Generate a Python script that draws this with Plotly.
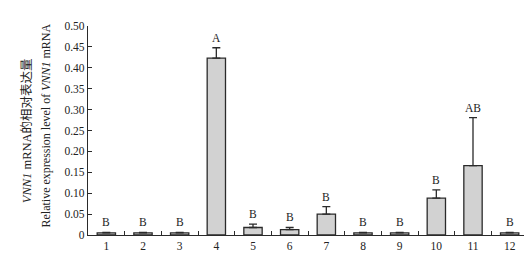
import plotly.graph_objects as go

categories = ["1", "2", "3", "4", "5", "6", "7", "8", "9", "10", "11", "12"]
values = [0.005, 0.005, 0.005, 0.423, 0.018, 0.013, 0.050, 0.005, 0.005, 0.088, 0.166, 0.005]
errors = [0.001, 0.001, 0.001, 0.025, 0.008, 0.005, 0.018, 0.001, 0.001, 0.020, 0.115, 0.001]
letters = ["B", "B", "B", "A", "B", "B", "B", "B", "B", "B", "AB", "B"]
ytick_vals = [0, 0.05, 0.10, 0.15, 0.20, 0.25, 0.30, 0.35, 0.40, 0.45, 0.50]
ytick_text = ["0", "0.05", "0.10", "0.15", "0.20", "0.25", "0.30", "0.35", "0.40", "0.45", "0.50"]
title_cn = "<i>VNN1</i> mRNA的相对表达量"
title_en = "Relative expression level of <i>VNN1</i> mRNA"

FONT = "Liberation Serif, Times New Roman, Noto Sans CJK SC, serif"

fig = go.Figure()
fig.add_trace(go.Bar(
    x=categories, y=values, width=0.5,
    marker=dict(color="#d2d2d2", line=dict(color="#2a2a2a", width=1.3)),
    error_y=dict(type="data", array=errors, arrayminus=[0]*len(errors), symmetric=False,
                 color="#2a2a2a", thickness=1.3, width=4),
))

for i, (v, e, t) in enumerate(zip(values, errors, letters)):
    fig.add_annotation(x=i, y=v + e, xref="x", yref="y", text=t, showarrow=False,
                       yanchor="bottom", yshift=2,
                       font=dict(family=FONT, size=11.5, color="#222"))

fig.add_annotation(x=-0.138, y=0.498, xref="paper", yref="paper", text=title_cn,
                   textangle=-90, showarrow=False, xanchor="center", yanchor="middle",
                   font=dict(family=FONT, size=12.5, color="#222"))
fig.add_annotation(x=-0.095, y=0.525, xref="paper", yref="paper", text=title_en,
                   textangle=-90, showarrow=False, xanchor="center", yanchor="middle",
                   font=dict(family=FONT, size=12, color="#222"))

fig.update_layout(
    width=532, height=256,
    margin=dict(l=80, r=12, t=14, b=23),
    paper_bgcolor="white", plot_bgcolor="white",
    showlegend=False,
    font=dict(family=FONT, size=11.5, color="#222"),
    bargap=0.5,
)
fig.update_xaxes(
    type="category", range=[-0.5, 11.5],
    showline=True, linecolor="#2a2a2a", linewidth=1.3,
    ticks="inside", ticklen=4, tickcolor="#2a2a2a", tickson="boundaries",
    showgrid=False, zeroline=False,
    tickfont=dict(family=FONT, size=11.5),
)
fig.update_yaxes(
    range=[0, 0.5], tickvals=ytick_vals, ticktext=ytick_text,
    showline=True, linecolor="#2a2a2a", linewidth=1.3,
    ticks="inside", ticklen=4, tickcolor="#2a2a2a",
    showgrid=False, zeroline=False,
    tickfont=dict(family=FONT, size=11.5),
)

fig.write_html("out.html")
